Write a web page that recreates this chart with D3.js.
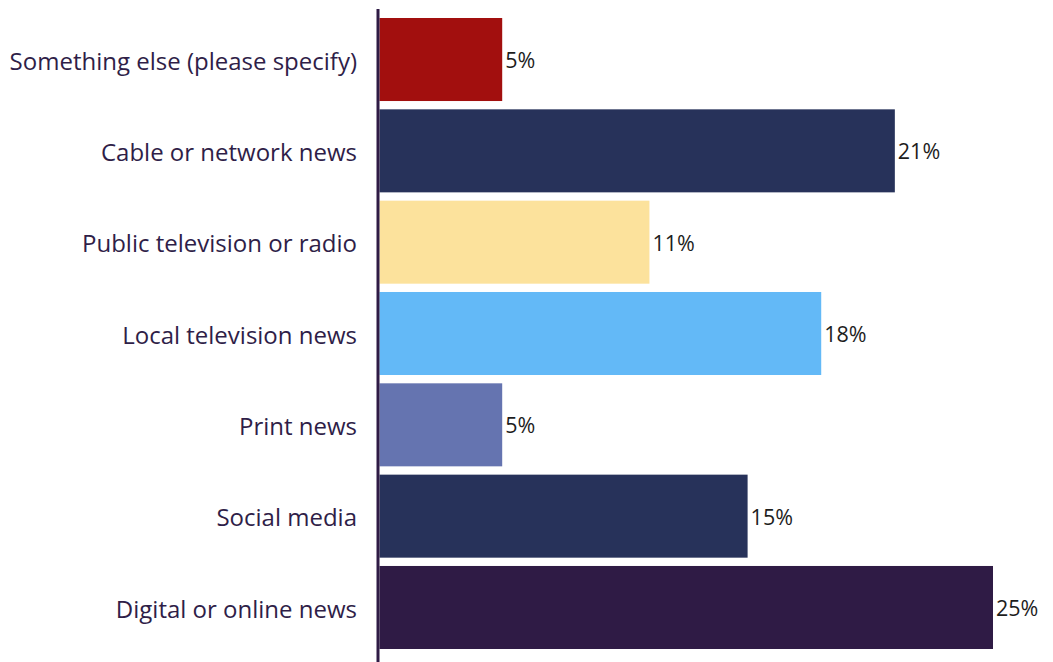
<!DOCTYPE html>
<html>
<head>
<meta charset="utf-8">
<script src="https://cdn.jsdelivr.net/npm/d3@7"></script>
<style>
  html, body { margin: 0; padding: 0; background: #fff; }
  svg { display: block; }
</style>
</head>
<body>
<svg id="chart" width="1053" height="662"></svg>
<script>
// News sources, top to bottom
const categories = [
  "Something else (please specify)",
  "Cable or network news",
  "Public television or radio",
  "Local television news",
  "Print news",
  "Social media",
  "Digital or online news"
];
const values = [5, 21, 11, 18, 5, 15, 25];
const barColors = ["#a20f0e", "#27325a", "#fce29c", "#63b9f7", "#6574b0", "#27325a", "#2f1b45"];

const svg = d3.select("#chart");
const font = "'Open Sans', 'Noto Sans', sans-serif";

const x = d3.scaleLinear().domain([0, 25]).range([379.5, 993]);
const gap = 8.3;
const y = d3.scaleBand()
  .domain(categories)
  .range([18 - gap / 2, 649 + gap / 2])
  .paddingInner(0.091)
  .paddingOuter(0.0455);

const data = categories.map((c, i) => ({ cat: c, val: values[i], color: barColors[i] }));

// bars
svg.append("g").selectAll("rect")
  .data(data)
  .join("rect")
  .attr("x", x(0))
  .attr("y", d => y(d.cat))
  .attr("width", d => x(d.val) - x(0))
  .attr("height", y.bandwidth())
  .attr("fill", d => d.color);

// value labels
svg.append("g").selectAll("text")
  .data(data)
  .join("text")
  .attr("x", d => x(d.val) + 3)
  .attr("y", d => y(d.cat) + y.bandwidth() / 2)
  .attr("dy", "0.4em")
  .attr("font-family", font)
  .attr("font-size", 21.5)
  .attr("fill", "#1d1d1d")
  .text(d => d.val + "%");

// category axis
const axis = d3.axisLeft(y).tickSize(0).tickPadding(21);
const gAxis = svg.append("g")
  .attr("transform", `translate(${x(0) - 1.5},0)`)
  .call(axis);
gAxis.select(".domain").remove();
gAxis.selectAll("text")
  .attr("font-family", font)
  .attr("font-size", 24)
  .attr("dy", "0.42em")
  .attr("fill", "#2f1e48");

gAxis.append("line")
  .attr("x1", 0).attr("x2", 0)
  .attr("y1", 9).attr("y2", 662)
  .attr("stroke", "#2f1b45")
  .attr("stroke-width", 3);
</script>
</body>
</html>
